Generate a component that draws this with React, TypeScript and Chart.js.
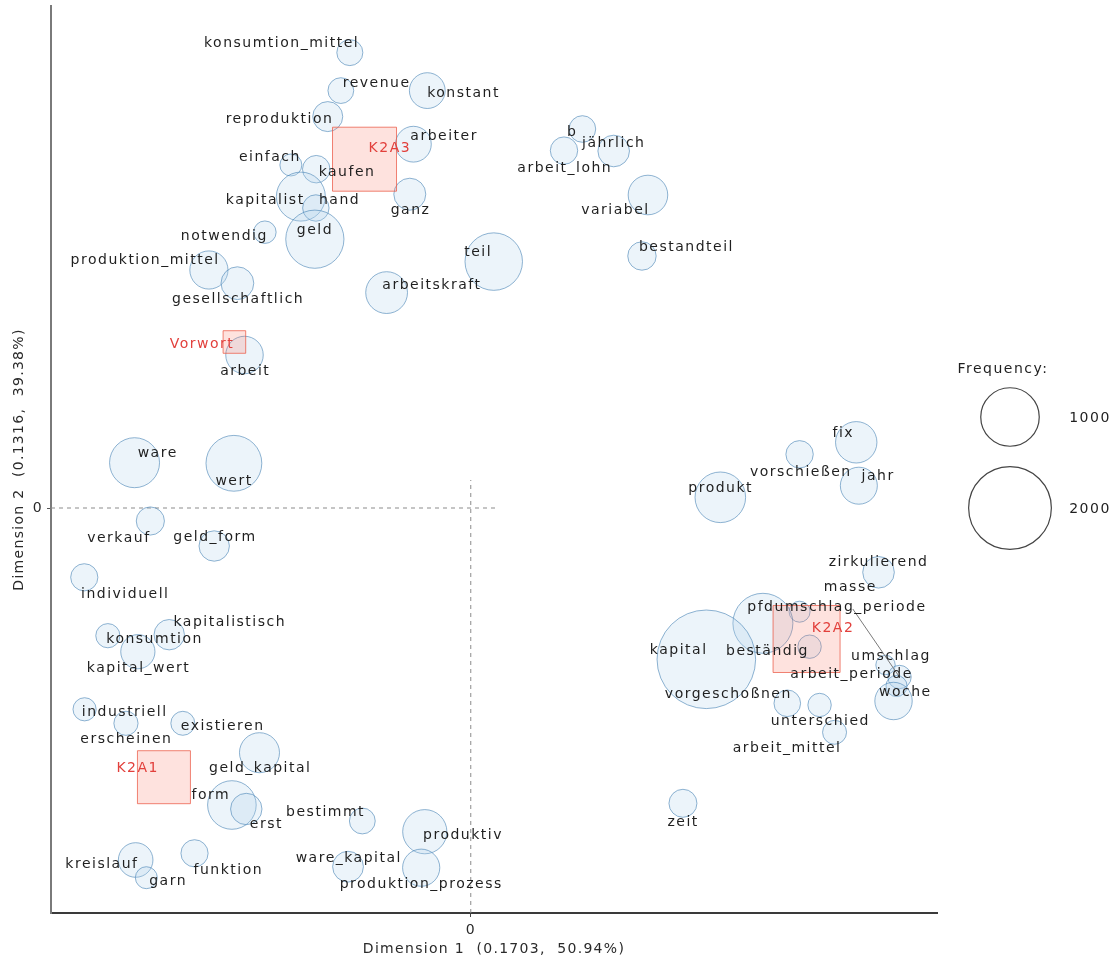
import React, { useEffect, useRef } from "react";
import { Chart, registerables } from "chart.js";

Chart.register(...registerables);

// ---------- data ----------
const words = [
  "konsumtion_mittel", "revenue", "konstant", "reproduktion", "arbeiter",
  "einfach", "kaufen", "kapitalist", "hand", "geld",
  "notwendig", "ganz", "produktion_mittel", "gesellschaftlich", "arbeitskraft",
  "teil", "b", "arbeit_lohn", "jährlich", "variabel",
  "bestandteil", "arbeit", "ware", "wert", "verkauf",
  "geld_form", "individuell", "konsumtion", "kapitalistisch", "kapital_wert",
  "industriell", "erscheinen", "existieren", "geld_kapital", "form",
  "erst", "bestimmt", "produktiv", "kreislauf", "garn",
  "funktion", "ware_kapital", "produktion_prozess", "fix", "vorschießen",
  "jahr", "produkt", "zirkulierend", "masse", "pfd",
  "beständig", "umschlag", "umschlag_periode", "arbeit_periode", "woche",
  "vorgeschoßnen", "unterschied", "arbeit_mittel", "kapital", "zeit",
];

const wordDim1 = [
  -0.605, -0.65, -0.2175, -0.7155, -0.287,
  -0.9, -0.773, -0.85, -0.775, -0.78,
  -1.03, -0.305, -1.31, -1.1675, -0.421,
  0.115, 0.5585, 0.4665, 0.715, 0.8865,
  0.8565, -1.132, -1.682, -1.185, -1.603,
  -1.2835, -1.9335, -1.8155, -1.5085, -1.6655,
  -1.932, -1.725, -1.4405, -1.057, -1.195,
  -1.123, -0.5425, -0.23, -1.6765, -1.623,
  -1.382, -0.614, -0.248, 1.9285, 1.645,
  1.9415, 1.2485, 2.04, 1.645, 1.4615,
  1.695, 2.075, 2.145, 2.13, 2.115,
  1.5835, 1.745, 1.82, 1.1785, 1.0615,
];

const wordDim2 = [
  2.277, 2.087, 2.087, 1.957, 1.819,
  1.715, 1.694, 1.557, 1.5, 1.344,
  1.379, 1.569, 1.19, 1.124, 1.077,
  1.232, 1.895, 1.787, 1.785, 1.565,
  1.26, 0.765, 0.2265, 0.2235, -0.065,
  -0.19, -0.3465, -0.6385, -0.6335, -0.7185,
  -1.0065, -1.0765, -1.0765, -1.2235, -1.485,
  -1.505, -1.565, -1.6185, -1.76, -1.8485,
  -1.7265, -1.7935, -1.7985, 0.3285, 0.2685,
  0.1115, 0.0535, -0.3215, -0.5185, -0.5765,
  -0.6935, -0.785, -0.845, -0.89, -0.965,
  -0.9765, -0.985, -1.1215, -0.7565, -1.4765,
];

const wordFreq = [
  198, 194, 374, 263, 374,
  141, 221, 702, 204, 990,
  148, 299, 426, 314, 510,
  966, 207, 219, 292, 458,
  236, 411, 730, 910, 232,
  270, 216, 171, 270, 342,
  157, 171, 168, 468, 690,
  288, 195, 571, 350, 141,
  216, 277, 404, 501, 219,
  400, 748, 292, 129, 1052,
  160, 110, 160, 130, 409,
  207, 160, 168, 2840, 229,
];

const docs = ["K2A3", "K2A2", "K2A1", "Vorwort"];
const docDim1 = [-0.5315, 1.68, -1.535, -1.1825];
const docDim2 = [1.744, -0.655, -1.346, 0.83];
const docFreq = [2394, 2623, 1641, 298];

const legendFreq = [1000, 2000];
const xTicks = [0];
const yTicks = [0];
const xTitle = "Dimension 1  (0.1703,  50.94%)";
const yTitle = "Dimension 2  (0.1316,  39.38%)";
const legendTitle = "Frequency:";

const X_MIN = -2.1;
const X_MAX = 2.3325;
const Y_MIN = -2.025;
const Y_MAX = 2.51;
const zeroLineExtent = 0.14;

// ---------- label placement (pixel offsets from the point) ----------
const wordLabelDX = [
  -69, 35, 35.5, -49, 30,
  -21.7, 30, -36.4, 23, -0.7,
  -41.25, 0, -64.5, 0, 44.5,
  -16.3, -11, 0, -0.7, -33.3,
  43.7, 0, 22.4, -0.6, -32.2,
  0, 40.2, 46, 59.8, 0,
  39.4, -0.3, 39.1, 0, -21.8,
  19.3, -37.5, 37.5, -34.5, 21,
  33, 0, -0.7, -13.7, 0.5,
  18.5, -0.4, -0.7, 50, -2.8,
  -42.8, 4.7, -49.7, -45.7, 11,
  -59.7, 0, -48.2, -28.4, -0.5,
];
const wordLabelDY = [
  -11, -9, 1, 0.6, -10,
  -10, 1.4, 1.6, -9.7, -11,
  2, 14, -11.7, 14.4, -9.4,
  -11, 1, 15.3, -10, 13.3,
  -11, 14.3, -11, 15.7, 15,
  -11, 15, 2, -14.7, 15,
  0.7, 14.4, 1, 14, -11.7,
  13.7, -10.3, 1.6, 2.3, 1.6,
  15, -10, 14.6, -10.6, 15.7,
  -11.7, -10.6, -11.6, -26.7, -18.3,
  2.6, -11, -72, -13.3, -10.3,
  -10.6, 14.3, 14.4, -11, 16.7,
];
const leaderWords = ["umschlag_periode"];
const docLabelDX = [24.6, 25.7, -27, -33.1];
const docLabelDY = [-12.5, -12.3, -11.2, 0.7];

// ---------- styles ----------
const FONT = '"DejaVu Sans", sans-serif';
const LABEL_SHIFT_Y = 2;
const radiusOf = (f: number) => 0.925 * Math.sqrt(f);

const spacingPlugin = {
  id: "spacing",
  beforeDraw(chart: any) {
    (chart.ctx as any).letterSpacing = "1.3px";
  },
  afterDraw(chart: any) {
    (chart.ctx as any).letterSpacing = "0px";
  },
};

const labelPlugin = {
  id: "caLabels",
  afterDatasetsDraw(chart: any) {
    const { ctx, chartArea } = chart;
    const wordMeta = chart.getDatasetMeta(1);
    const docMeta = chart.getDatasetMeta(2);
    ctx.save();

    // leader segments
    ctx.strokeStyle = "#7a7a7a";
    ctx.lineWidth = 1;
    words.forEach((w, i) => {
      if (!leaderWords.includes(w)) return;
      const el = wordMeta.data[i];
      ctx.beginPath();
      ctx.moveTo(el.x + wordLabelDX[i] + 3, el.y + wordLabelDY[i] + 4);
      ctx.lineTo(el.x, el.y);
      ctx.stroke();
    });

    ctx.font = `14px ${FONT}`;
    (ctx as any).letterSpacing = "1.5px";
    ctx.textAlign = "center";
    ctx.textBaseline = "middle";
    ctx.fillStyle = "#1f1f1f";
    words.forEach((w, i) => {
      const el = wordMeta.data[i];
      ctx.fillText(w, el.x + wordLabelDX[i] + 0.75, el.y + wordLabelDY[i] + LABEL_SHIFT_Y);
    });
    ctx.fillStyle = "#e2403c";
    docs.forEach((d, i) => {
      const el = docMeta.data[i];
      ctx.fillText(d, el.x + docLabelDX[i] + 0.75, el.y + docLabelDY[i] + LABEL_SHIFT_Y);
    });

    // bubble-size legend
    const lx = chartArea.right;
    const ty = chartArea.top;
    ctx.fillStyle = "#1f1f1f";
    ctx.fillText(legendTitle, lx + 66, ty + 363);
    const cy = [ty + 411, ty + 502];
    legendFreq.forEach((f, i) => {
      ctx.beginPath();
      ctx.strokeStyle = "#444";
      ctx.lineWidth = 1.2;
      ctx.arc(lx + 73, cy[i], radiusOf(f), 0, Math.PI * 2);
      ctx.stroke();
      ctx.fillStyle = "#1f1f1f";
      ctx.fillText(String(f), lx + 153, cy[i] + 1);
    });
    ctx.restore();
  },
};

export default function App() {
  const ref = useRef<HTMLCanvasElement>(null);

  useEffect(() => {
    if (!ref.current) return;
    const wordData = words.map((_, i) => ({
      x: wordDim1[i],
      y: wordDim2[i],
      r: radiusOf(wordFreq[i]),
    }));
    const docData = docs.map((_, i) => ({
      x: docDim1[i],
      y: docDim2[i],
      r: radiusOf(docFreq[i]),
    }));
    const chart = new Chart(ref.current, {
      type: "bubble",
      data: {
        datasets: [
          {
            type: "line",
            label: "zero",
            data: [
              { x: X_MIN, y: 0 },
              { x: zeroLineExtent, y: 0 },
            ],
            borderColor: "#8c8c8c",
            borderWidth: 1,
            borderDash: [4, 4],
            pointRadius: 0,
            fill: false,
            order: 3,
          } as any,
          {
            label: "words",
            data: wordData,
            backgroundColor: "rgba(180,210,235,0.25)",
            borderColor: "rgba(70,130,180,0.6)",
            borderWidth: 1,
            order: 2,
          },
          {
            label: "docs",
            data: docData,
            pointStyle: "rect",
            backgroundColor: "rgba(250,110,90,0.2)",
            borderColor: "rgba(235,90,70,0.75)",
            borderWidth: 1,
            order: 1,
          } as any,
          {
            type: "line",
            label: "zero2",
            data: [
              { x: 0, y: Y_MIN },
              { x: 0, y: zeroLineExtent },
            ],
            borderColor: "#8c8c8c",
            borderWidth: 1,
            borderDash: [4, 4],
            pointRadius: 0,
            fill: false,
            order: 3,
          } as any,
        ],
      },
      options: {
        animation: false,
        responsive: false,
        events: [],
        layout: { autoPadding: false, padding: { left: 0, top: 6, right: 180, bottom: 0 } },
        plugins: { legend: { display: false }, tooltip: { enabled: false } },
        scales: {
          x: {
            type: "linear",
            position: "bottom",
            min: X_MIN,
            max: X_MAX,
            afterBuildTicks: (s: any) => {
              s.ticks = xTicks.map((v) => ({ value: v }));
            },
            afterFit: (s: any) => {
              s.height = 47;
              s.paddingLeft = 0;
              s.paddingRight = 0;
            },
            grid: { drawOnChartArea: false, drawTicks: true, tickLength: 4, color: "#444" },
            border: { display: true, color: "#3a3a3a", width: 2 },
            ticks: { color: "#2a2a2a", font: { family: FONT, size: 14 }, padding: 5 },
            title: {
              display: true,
              text: xTitle,
              color: "#2a2a2a",
              font: { family: FONT, size: 14 },
              padding: { top: 0, bottom: 2 },
            },
          },
          y: {
            type: "linear",
            position: "left",
            min: Y_MIN,
            max: Y_MAX,
            afterBuildTicks: (s: any) => {
              s.ticks = yTicks.map((v) => ({ value: v }));
            },
            afterFit: (s: any) => {
              s.width = 51;
              s.paddingTop = 0;
              s.paddingBottom = 0;
            },
            grid: { drawOnChartArea: false, drawTicks: true, tickLength: 4, color: "#555" },
            border: { display: true, color: "#7a7a7a", width: 2 },
            ticks: { color: "#2a2a2a", font: { family: FONT, size: 14 }, padding: 4 },
            title: {
              display: true,
              text: yTitle,
              color: "#2a2a2a",
              font: { family: FONT, size: 14 },
              padding: { top: 11, bottom: 0 },
            },
          },
        },
      },
      plugins: [spacingPlugin, labelPlugin],
    } as any);
    return () => chart.destroy();
  }, []);

  return (
    <div style={{ position: "absolute", left: 0, top: 0, width: 1117, height: 960 }}>
      <canvas ref={ref} width={1117} height={960} style={{ width: 1117, height: 960 }} />
    </div>
  );
}
